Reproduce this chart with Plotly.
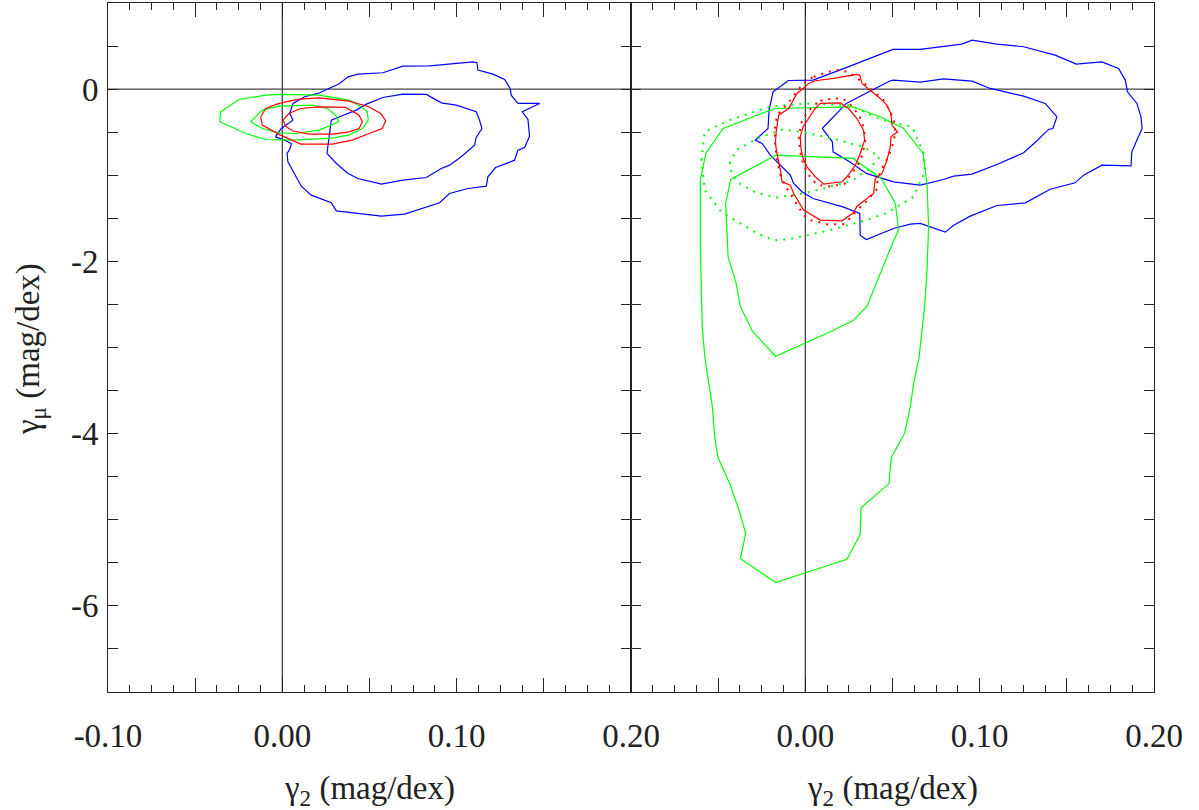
import plotly.graph_objects as go

# ---------------- left panel contours ----------------
left_blue_outer_x = [-0.0040, -0.0006, 0.0061, 0.0042, 0.0061, 0.0128, 0.0205, 0.0291, 0.0329, 0.0377,
                     0.0434, 0.0577, 0.0692, 0.0845, 0.0979, 0.1093, 0.1116, 0.1122, 0.1208, 0.1275,
                     0.1307, 0.1313, 0.1351, 0.1476, 0.1376, 0.1409, 0.1418, 0.1390, 0.1351, 0.1332,
                     0.1275, 0.1223, 0.1179, 0.1170, 0.1065, 0.0959, 0.0902, 0.0701, 0.0568, 0.0310,
                     0.0281, 0.0166, 0.0109, 0.0032, 0.0027, 0.0042, 0.0052, 0.0013]
left_blue_outer_y = [-0.554, -0.457, -0.360, -0.283, -0.166, -0.089, -0.050, 0.027, 0.066, 0.143,
                     0.174, 0.190, 0.267, 0.271, 0.298, 0.317, 0.306, 0.221, 0.174, 0.112,
                     0.008, -0.070, -0.166, -0.166, -0.263, -0.352, -0.546, -0.678, -0.708, -0.825,
                     -0.871, -0.910, -1.018, -1.127, -1.154, -1.212, -1.320, -1.452, -1.475, -1.413,
                     -1.320, -1.231, -1.127, -0.844, -0.747, -0.701, -0.631, -0.592]

left_blue_inner_x = [0.0256, 0.0268, 0.0281, 0.0329, 0.0424, 0.0482, 0.0577, 0.0692, 0.0826, 0.0912,
                     0.0998, 0.1112, 0.1131, 0.1145, 0.1112, 0.1103, 0.1026, 0.0959, 0.0912, 0.0826,
                     0.0692, 0.0568, 0.0434, 0.0377, 0.0310]
left_blue_inner_y = [-0.747, -0.573, -0.360, -0.321, -0.244, -0.174, -0.097, -0.058, -0.062, -0.159,
                     -0.186, -0.263, -0.360, -0.457, -0.561, -0.650, -0.786, -0.883, -0.921, -1.026,
                     -1.057, -1.103, -1.038, -0.979, -0.863]

left_green_outer_x = [-0.0359, -0.0354, -0.0248, -0.0096, 0.0000, 0.0210, 0.0382, 0.0440, 0.0487, 0.0493,
                      0.0459, 0.0382, 0.0268, 0.0057, -0.0096, -0.0210]
left_green_outer_y = [-0.379, -0.263, -0.120, -0.070, -0.062, -0.070, -0.128, -0.186, -0.263, -0.360,
                      -0.457, -0.534, -0.573, -0.592, -0.585, -0.515]

left_green_inner_x = [-0.0182, -0.0115, -0.0019, 0.0172, 0.0258, 0.0306, 0.0325, 0.0210, 0.0076, -0.0019, -0.0115]
left_green_inner_y = [-0.379, -0.244, -0.197, -0.186, -0.225, -0.302, -0.379, -0.476, -0.515, -0.507, -0.457]

left_red_outer_x = [-0.0124, -0.0115, -0.0010, 0.0105, 0.0287, 0.0401, 0.0497, 0.0573, 0.0593, 0.0564,
                    0.0497, 0.0382, 0.0210, 0.0096, -0.0019, -0.0096]
left_red_outer_y = [-0.321, -0.418, -0.534, -0.639, -0.639, -0.592, -0.515, -0.457, -0.368, -0.283,
                    -0.205, -0.139, -0.101, -0.116, -0.166, -0.225]

left_red_inner_x = [0.0004, 0.0038, 0.0105, 0.0210, 0.0363, 0.0440, 0.0459, 0.0440, 0.0382, 0.0287,
                    0.0153, 0.0057, 0.0019]
left_red_inner_y = [-0.360, -0.283, -0.225, -0.205, -0.213, -0.302, -0.379, -0.457, -0.496, -0.523,
                    -0.523, -0.484, -0.430]

# ---------------- right panel contours ----------------
right_blue_outer_x = [-0.0096, 0.0044, 0.0197, 0.0350, 0.0503, 0.0659, 0.0898, 0.0956, 0.1099, 0.1252,
                      0.1433, 0.1554, 0.1701, 0.1797, 0.1835, 0.1848, 0.1902, 0.1925, 0.1932, 0.1902,
                      0.1873, 0.1868, 0.1701, 0.1596, 0.1548, 0.1405, 0.1262, 0.1099, 0.0946, 0.0851,
                      0.0803, 0.0659, 0.0602, 0.0506, 0.0350, 0.0315, 0.0312, 0.0216, 0.0044, -0.0019,
                      -0.0067, -0.0086, -0.0134, -0.0201, -0.0248, -0.0287, -0.0214, -0.0208, -0.0185]
right_blue_outer_y = [0.100, 0.105, 0.221, 0.345, 0.461, 0.461, 0.523, 0.569, 0.523, 0.492,
                      0.395, 0.290, 0.317, 0.240, 0.105, -0.031, -0.166, -0.321, -0.457, -0.592,
                      -0.728, -0.890, -0.883, -0.999, -1.088, -1.162, -1.321, -1.351, -1.475, -1.580,
                      -1.661, -1.560, -1.568, -1.618, -1.746, -1.700, -1.444, -1.367, -1.270, -1.192,
                      -1.096, -0.999, -0.902, -0.767, -0.631, -0.592, -0.457, -0.244, -0.031]

right_blue_inner_x = [0.0097, 0.0235, 0.0484, 0.0503, 0.0659, 0.0793, 0.0956, 0.1061, 0.1252, 0.1376,
                      0.1443, 0.1420, 0.1395, 0.1329, 0.1252, 0.1099, 0.0956, 0.0851, 0.0793, 0.0659,
                      0.0506, 0.0350, 0.0254, 0.0159, 0.0155]
right_blue_inner_y = [-0.457, -0.166, 0.095, 0.105, 0.081, 0.120, 0.093, 0.008, -0.081, -0.166,
                      -0.321, -0.457, -0.468, -0.600, -0.739, -0.875, -0.987, -1.010, -1.049, -1.115,
                      -1.076, -0.979, -0.844, -0.728, -0.612]

right_green_outer_x = [-0.0176, 0.0273, 0.0430, 0.0564, 0.0675, 0.0698, 0.0707, 0.0698, 0.0684, 0.0652,
                       0.0621, 0.0602, 0.0570, 0.0493, 0.0480, 0.0319, 0.0315, 0.0239, -0.0004, -0.0170,
                       -0.0373, -0.0342, -0.0380, -0.0434, -0.0501, -0.0520, -0.0533, -0.0577, -0.0591, -0.0602,
                       -0.0602, -0.0571, -0.0472]
right_green_outer_y = [-0.225, -0.205, -0.321, -0.457, -0.747, -1.096, -1.599, -2.102, -2.528, -3.117,
                       -3.419, -3.690, -3.992, -4.278, -4.580, -4.862, -5.168, -5.459, -5.618, -5.730,
                       -5.451, -5.161, -4.890, -4.580, -4.278, -4.038, -3.690, -3.109, -2.760, -1.870,
                       -1.057, -0.747, -0.457]

right_green_inner_x = [-0.0170, 0.0273, 0.0436, 0.0516, 0.0535, 0.0484, 0.0354, 0.0277, 0.0149, -0.0004,
                       -0.0170, -0.0304, -0.0373, -0.0399, -0.0443, -0.0457, -0.0428]
right_green_inner_y = [-0.767, -0.805, -1.038, -1.328, -1.630, -1.870, -2.520, -2.683, -2.811, -2.946,
                       -3.101, -2.811, -2.520, -2.238, -1.947, -1.328, -1.049]

right_green_dot_outer_x = [-0.0596, -0.0577, -0.0434, -0.0205, 0.0006, 0.0254, 0.0445, 0.0612, 0.0679, 0.0685,
                           0.0621, 0.0468, 0.0350, 0.0140, -0.0090, -0.0185, -0.0281, -0.0482, -0.0577]
right_green_dot_outer_y = [-0.825, -0.496, -0.360, -0.205, -0.166, -0.186, -0.360, -0.437, -0.747, -0.960,
                           -1.250, -1.436, -1.521, -1.638, -1.742, -1.754, -1.669, -1.425, -1.173]

right_green_dot_inner_x = [-0.0434, -0.0396, -0.0262, -0.0128, 0.0006, 0.0178, 0.0331, 0.0426, 0.0369, 0.0273,
                           0.0140, -0.0013, -0.0166, -0.0281, -0.0377, -0.0424]
right_green_dot_inner_y = [-0.863, -0.708, -0.561, -0.468, -0.507, -0.585, -0.670, -0.786, -0.921, -1.057,
                           -1.134, -1.212, -1.258, -1.204, -1.096, -0.979]

right_red_outer_x = [0.0000, -0.0048, -0.0096, -0.0153, -0.0166, -0.0172, -0.0159, -0.0143, -0.0134, -0.0086,
                     -0.0067, -0.0010, 0.0086, 0.0210, 0.0277, 0.0296, 0.0392, 0.0401, 0.0440, 0.0468,
                     0.0487, 0.0491, 0.0529, 0.0497, 0.0491, 0.0468, 0.0430, 0.0382, 0.0325, 0.0312,
                     0.0296, 0.0162, 0.0057, 0.0019]
right_red_outer_y = [0.027, -0.050, -0.225, -0.302, -0.476, -0.631, -0.786, -0.941, -1.076, -1.115,
                     -1.212, -1.405, -1.521, -1.529, -1.436, -1.359, -1.212, -1.038, -0.979, -0.825,
                     -0.670, -0.554, -0.496, -0.418, -0.283, -0.186, -0.108, -0.031, 0.066, 0.163,
                     0.170, 0.124, 0.097, 0.066]

right_red_inner_x = [0.0086, 0.0201, 0.0248, 0.0296, 0.0334, 0.0340, 0.0315, 0.0287, 0.0239, 0.0210,
                     0.0105, 0.0057, 0.0010, -0.0013, -0.0025, -0.0029, -0.0013, 0.0029, 0.0057]
right_red_inner_y = [-0.166, -0.159, -0.225, -0.341, -0.476, -0.592, -0.747, -0.883, -1.018, -1.076,
                     -1.103, -1.018, -0.902, -0.805, -0.689, -0.554, -0.437, -0.302, -0.225]

right_red_dot_outer_x = [0.0048, 0.0134, 0.0201, 0.0258, 0.0334, 0.0392, 0.0449, 0.0487, 0.0510, 0.0516,
                         0.0497, 0.0478, 0.0445, 0.0415, 0.0407, 0.0354, 0.0296, 0.0262, 0.0216, 0.0124,
                         0.0029, -0.0010, -0.0048, -0.0082, -0.0115, -0.0140, -0.0159, -0.0172, -0.0176, -0.0162,
                         -0.0109, -0.0057, -0.0019, 0.0010]
right_red_dot_outer_y = [0.143, 0.201, 0.228, 0.182, 0.074, -0.031, -0.128, -0.263, -0.379, -0.515,
                         -0.670, -0.778, -0.902, -1.038, -1.173, -1.297, -1.405, -1.491, -1.568, -1.568,
                         -1.521, -1.463, -1.336, -1.231, -1.127, -1.018, -0.863, -0.670, -0.476, -0.302,
                         -0.186, -0.050, 0.046, 0.105]

right_red_dot_inner_x = [0.0086, 0.0162, 0.0216, 0.0262, 0.0308, 0.0334, 0.0344, 0.0329, 0.0296, 0.0262,
                         0.0224, 0.0124, 0.0063, 0.0015, -0.0013, -0.0032, -0.0036, -0.0025, 0.0006, 0.0044]
right_red_dot_inner_y = [-0.135, -0.108, -0.108, -0.186, -0.302, -0.437, -0.592, -0.755, -0.902, -0.987,
                         -1.103, -1.134, -1.103, -0.987, -0.863, -0.708, -0.554, -0.399, -0.283, -0.197]

# ---------------- axes ----------------
x_range = [-0.10, 0.20]
y_range = [-7.0, 1.0]
x_left_label_vals = [-0.10, 0.00, 0.10, 0.20]
x_left_labels = ["-0.10", "0.00", "0.10", "0.20"]
x_left_extra_ticks = [-0.05, 0.05, 0.15]
x_right_label_vals = [0.00, 0.10, 0.20]
x_right_labels = ["0.00", "0.10", "0.20"]
x_right_extra_ticks = [-0.10, -0.05, 0.05, 0.15]
y_major_vals = [-6, -4, -2, 0]
y_labels = ["-6", "-4", "-2", "0"]

BLUE = "#0000ff"
GREEN = "#00ff00"
RED = "#ff0000"
AXIS = "#222222"
FONT = "Liberation Serif, Times New Roman, serif"


def closed(xs, ys):
    return list(xs) + [xs[0]], list(ys) + [ys[0]]


fig = go.Figure()


def add_loop(xs, ys, color, xa, ya, dotted=False):
    cx, cy = closed(xs, ys)
    line = dict(color=color, width=1.2)
    if dotted:
        line = dict(color=color, width=2, dash="2px,6px")
    fig.add_trace(go.Scatter(x=cx, y=cy, mode="lines", line=line,
                             xaxis=xa, yaxis=ya, showlegend=False, hoverinfo="skip"))


# left panel
add_loop(left_blue_outer_x, left_blue_outer_y, BLUE, "x", "y")
add_loop(left_blue_inner_x, left_blue_inner_y, BLUE, "x", "y")
add_loop(left_green_outer_x, left_green_outer_y, GREEN, "x", "y")
add_loop(left_green_inner_x, left_green_inner_y, GREEN, "x", "y")
add_loop(left_red_outer_x, left_red_outer_y, RED, "x", "y")
add_loop(left_red_inner_x, left_red_inner_y, RED, "x", "y")

# right panel
add_loop(right_blue_outer_x, right_blue_outer_y, BLUE, "x2", "y2")
add_loop(right_blue_inner_x, right_blue_inner_y, BLUE, "x2", "y2")
add_loop(right_green_outer_x, right_green_outer_y, GREEN, "x2", "y2")
add_loop(right_green_inner_x, right_green_inner_y, GREEN, "x2", "y2")
add_loop(right_green_dot_outer_x, right_green_dot_outer_y, GREEN, "x2", "y2", dotted=True)
add_loop(right_green_dot_inner_x, right_green_dot_inner_y, GREEN, "x2", "y2", dotted=True)
add_loop(right_red_dot_outer_x, right_red_dot_outer_y, RED, "x2", "y2", dotted=True)
add_loop(right_red_dot_inner_x, right_red_dot_inner_y, RED, "x2", "y2", dotted=True)
add_loop(right_red_outer_x, right_red_outer_y, RED, "x2", "y2")
add_loop(right_red_inner_x, right_red_inner_y, RED, "x2", "y2")

# empty traces so the overlay tick axes are drawn
for xa, ya in (("x3", "y"), ("x4", "y2")):
    fig.add_trace(go.Scatter(x=[None], y=[None], mode="lines", xaxis=xa, yaxis=ya,
                             showlegend=False, hoverinfo="skip"))

# zero reference lines in both panels
for xr, yr in (("x", "y"), ("x2", "y2")):
    fig.add_shape(type="line", xref=xr, yref=yr, x0=0, x1=0, y0=y_range[0], y1=y_range[1],
                  line=dict(color="#444444", width=1.3), layer="below")
    fig.add_shape(type="line", xref=xr, yref=yr, x0=x_range[0], x1=x_range[1], y0=0, y1=0,
                  line=dict(color="#444444", width=1.3), layer="below")

W, H = 1199, 810
left_dom = [108 / W, 631 / W]
right_dom = [631 / W, 1154 / W]
y_dom = [(H - 692) / H, (H - 3) / H]

tick_font = dict(family=FONT, size=33, color=AXIS)


def x_axis(domain, vals, labels, anchor):
    return dict(domain=domain, range=x_range, anchor=anchor, automargin=False,
                tickmode="array", tickvals=vals, ticktext=labels,
                ticks="inside", ticklen=14, tickwidth=1, tickcolor=AXIS,
                minor=dict(dtick=0.0125, tick0=0, ticks="inside", ticklen=7,
                           tickwidth=1, tickcolor=AXIS, showgrid=False),
                showline=True, linecolor=AXIS, linewidth=1, mirror="allticks",
                showgrid=False, zeroline=False, tickfont=tick_font,
                ticklabelstandoff=14)


def x_tick_overlay(domain, vals, overlay, anchor):
    return dict(domain=domain, range=x_range, anchor=anchor, overlaying=overlay,
                automargin=False, tickmode="array", tickvals=vals,
                showticklabels=False, ticks="inside", ticklen=14, tickwidth=1,
                tickcolor=AXIS, showline=False, mirror="allticks",
                showgrid=False, zeroline=False)


def y_axis(anchor, show_labels):
    return dict(domain=y_dom, range=y_range, anchor=anchor, automargin=False,
                tickmode="array", tickvals=y_major_vals, ticktext=y_labels,
                showticklabels=show_labels,
                ticks="inside", ticklen=10, tickwidth=1, tickcolor=AXIS,
                minor=dict(dtick=0.5, tick0=0, ticks="inside", ticklen=5,
                           tickwidth=1, tickcolor=AXIS, showgrid=False),
                showline=True, linecolor=AXIS, linewidth=1, mirror="allticks",
                showgrid=False, zeroline=False, tickfont=tick_font,
                ticklabelstandoff=2)


title_font = dict(family=FONT, size=33, color=AXIS)

fig.update_layout(
    width=W, height=H,
    margin=dict(l=0, r=0, t=0, b=0, autoexpand=False),
    paper_bgcolor="white", plot_bgcolor="white",
    xaxis=x_axis(left_dom, x_left_label_vals, x_left_labels, "y"),
    xaxis2=x_axis(right_dom, x_right_label_vals, x_right_labels, "y2"),
    xaxis3=x_tick_overlay(left_dom, x_left_extra_ticks, "x", "y"),
    xaxis4=x_tick_overlay(right_dom, x_right_extra_ticks, "x2", "y2"),
    yaxis=y_axis("x", True),
    yaxis2=y_axis("x2", False),
    annotations=[
        dict(text="γ<sub>2</sub> (mag/dex)", x=(left_dom[0] + left_dom[1]) / 2, y=(H - 790) / H,
             xref="paper", yref="paper", xanchor="center", yanchor="middle", showarrow=False,
             font=title_font),
        dict(text="γ<sub>2</sub> (mag/dex)", x=(right_dom[0] + right_dom[1]) / 2, y=(H - 790) / H,
             xref="paper", yref="paper", xanchor="center", yanchor="middle", showarrow=False,
             font=title_font),
        dict(text="γ<sub>μ</sub> (mag/dex)", x=30 / W, y=(H - 349) / H, textangle=-90,
             xref="paper", yref="paper", xanchor="center", yanchor="middle", showarrow=False,
             font=title_font),
    ],
)

fig.write_html("out.html")
